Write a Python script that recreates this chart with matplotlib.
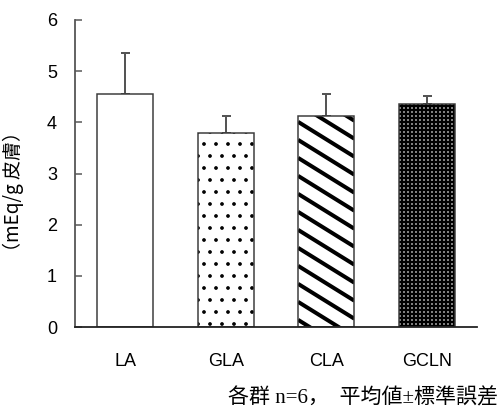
import numpy as np
import matplotlib
matplotlib.use("Agg")
import matplotlib.pyplot as plt
from matplotlib.collections import LineCollection

# DATA
groups = ["LA", "GLA", "CLA", "GCLN"]
means = [4.55, 3.80, 4.12, 4.36]
sems = [0.81, 0.32, 0.43, 0.16]
yticks = [0, 1, 2, 3, 4, 5, 6]
ylabel = "（mEq/g 皮膚）"
note = "各群 n=6，  平均値±標準誤差"

# FIGURE (dpi 72 so that hatch spacing matches)
DPI = 72
W, H = 502, 410
fig = plt.figure(figsize=(W / DPI, H / DPI), dpi=DPI)
ax = fig.add_axes([75 / W, 1 - 327 / H, 402 / W, 307 / H])

x = np.arange(len(groups))
width = 0.56
edge_gray = "#3a3a3a"
hatches = [None, ".", None, "+++"]
hatch_lw = [1.0, 1.3, 1.0, 2.5]

for i in range(len(groups)):
    kw = dict(color="white", edgecolor="black", linewidth=0, zorder=2)
    if hatches[i]:
        kw["hatch"] = hatches[i]
    with plt.rc_context({"hatch.linewidth": hatch_lw[i]}):
        b = ax.bar(x[i], means[i], width, **kw)
    if hasattr(b[0], "set_hatch_linewidth"):
        b[0].set_hatch_linewidth(hatch_lw[i])

# diagonal stripes for CLA, clipped to bar
ax.set_xlim(-0.5, 3.5)
ax.set_ylim(0, 6)
sx = 402 / 4.0      # px per x unit
sy = 307 / 6.0      # px per y unit
slope_px = 0.62
spacing_px = 18
i = 2
x0, x1 = x[i] - width / 2, x[i] + width / 2
dydx = -slope_px * sx / sy
segs = []
start = means[i] + 2
while start > -3:
    segs.append([(x0, start), (x1, start + dydx * (x1 - x0))])
    start -= spacing_px / sy
stripes = LineCollection(segs, colors="black", linewidths=4.0, zorder=3)
ax.add_collection(stripes, autolim=False)
clip_bar = ax.bar(x[i], means[i], width, color="none", linewidth=0)
stripes.set_clip_path(clip_bar[0])

# bar outlines
ax.bar(x, means, width, color="none", edgecolor=edge_gray, linewidth=1.5, zorder=4)

# upper error bars only
ax.errorbar(x, np.array(means), yerr=[np.zeros(len(sems)), sems], fmt="none",
            ecolor="#555555", elinewidth=2, capsize=4.5, capthick=2, zorder=1)

# AXES STYLE
ax.set_xlim(-0.5, 3.5)
ax.set_ylim(0, 6)
ax.spines["top"].set_visible(False)
ax.spines["right"].set_visible(False)
ax.spines["left"].set_color("#555555")
ax.spines["left"].set_linewidth(1.8)
ax.spines["bottom"].set_color("#222222")
ax.spines["bottom"].set_linewidth(1.8)
ax.spines["bottom"].set_zorder(5)

ax.set_yticks(yticks)
ax.set_xticks(x)
ax.set_xticklabels(groups)
ax.tick_params(axis="y", direction="in", length=7, width=1.5, color="#555555",
               pad=18, labelsize=18)
ax.tick_params(axis="x", length=0, pad=26, labelsize=18)
for lab in ax.get_xticklabels() + ax.get_yticklabels():
    lab.set_family("Liberation Sans")

ax.set_ylabel(ylabel, family=["Noto Sans CJK JP", "DejaVu Sans"], fontsize=19)
ax.yaxis.set_label_coords(-51 / 402, 0.44)

fig.text(498 / W, 1 - 398 / H, note, ha="right", va="center", fontsize=21,
         family=["Liberation Serif", "Noto Sans CJK JP"])

fig.savefig("out.png", dpi=DPI)
